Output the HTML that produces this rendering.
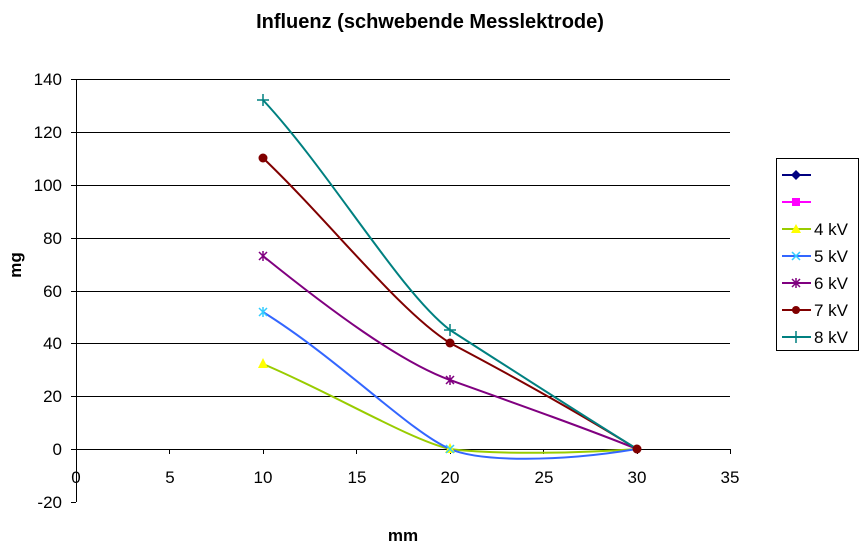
<!DOCTYPE html>
<html><head><meta charset="utf-8"><style>body{margin:0;background:#fff}svg{display:block;font-family:"Liberation Sans",Arial,sans-serif}</style></head><body>
<svg width="864" height="550" viewBox="0 0 864 550">
<rect width="864" height="550" fill="#fff"/>
<text x="430" y="28" font-size="20" font-weight="bold" text-anchor="middle">Influenz (schwebende Messlektrode)</text>
<g stroke="#000" stroke-width="1">
<line x1="76" y1="79.5" x2="730" y2="79.5"/><line x1="76" y1="132.5" x2="730" y2="132.5"/><line x1="76" y1="185.5" x2="730" y2="185.5"/><line x1="76" y1="238.5" x2="730" y2="238.5"/><line x1="76" y1="291.5" x2="730" y2="291.5"/><line x1="76" y1="343.5" x2="730" y2="343.5"/><line x1="76" y1="396.5" x2="730" y2="396.5"/><line x1="76" y1="449.5" x2="730" y2="449.5"/>
<line x1="76.5" y1="79" x2="76.5" y2="502"/>
<line x1="71" y1="79.5" x2="76" y2="79.5"/><line x1="71" y1="132.5" x2="76" y2="132.5"/><line x1="71" y1="185.5" x2="76" y2="185.5"/><line x1="71" y1="238.5" x2="76" y2="238.5"/><line x1="71" y1="291.5" x2="76" y2="291.5"/><line x1="71" y1="343.5" x2="76" y2="343.5"/><line x1="71" y1="396.5" x2="76" y2="396.5"/><line x1="71" y1="449.5" x2="76" y2="449.5"/><line x1="71" y1="502.5" x2="76" y2="502.5"/>
<line x1="169.5" y1="449" x2="169.5" y2="454"/><line x1="263.5" y1="449" x2="263.5" y2="454"/><line x1="356.5" y1="449" x2="356.5" y2="454"/><line x1="450.5" y1="449" x2="450.5" y2="454"/><line x1="543.5" y1="449" x2="543.5" y2="454"/><line x1="637.5" y1="449" x2="637.5" y2="454"/><line x1="730.5" y1="449" x2="730.5" y2="454"/>
</g>
<g font-size="17" text-anchor="end">
<text x="62" y="85">140</text><text x="62" y="138">120</text><text x="62" y="191">100</text><text x="62" y="244">80</text><text x="62" y="297">60</text><text x="62" y="349">40</text><text x="62" y="402">20</text><text x="62" y="455">0</text><text x="62" y="508">-20</text>
</g>
<g font-size="17" text-anchor="middle">
<text x="76" y="483">0</text><text x="170" y="483">5</text><text x="263" y="483">10</text><text x="357" y="483">15</text><text x="450" y="483">20</text><text x="544" y="483">25</text><text x="637" y="483">30</text><text x="730" y="483">35</text>
</g>
<text x="403" y="541" font-size="17" font-weight="bold" text-anchor="middle">mm</text>
<text transform="translate(21,265) rotate(-90)" font-size="17" font-weight="bold" text-anchor="middle">mg</text>
<g fill="none" stroke-width="2">
<path d="M263,364 C330,392 410,440 450,449 C500,455 580,453 637,449" stroke="#99cc00"/>
<path d="M263,312 C340,360 410,432 450,449 C480,462 560,462 637,449" stroke="#3366ff"/>
<path d="M263,256 C330,310 400,362 450,380 C520,405 590,430 637,449" stroke="#800080"/>
<path d="M263,158 C330,222 400,312 450,343 C520,380 590,420 637,449" stroke="#800000"/>
<path d="M263,100 C330,172 400,292 450,330 C520,375 590,420 637,449" stroke="#008080"/>
</g>
<polygon points="263,358 258,368 268,368" fill="#ffff00"/>
<polygon points="450,443 445,453 455,453" fill="#ffff00"/>
<g stroke="#33ccff" stroke-width="1.5"><path d="M259,308 L267,316 M259,316 L267,308 M263,307 V317"/><path d="M446,445 L454,453 M446,453 L454,445"/></g>
<g stroke="#800080" stroke-width="1.5"><path d="M259,252 L267,260 M259,260 L267,252 M263,251 V261"/><path d="M446,376 L454,384 M446,384 L454,376 M450,375 V385"/></g>
<circle cx="263" cy="158" r="4.5" fill="#800000"/><circle cx="450" cy="343" r="4.5" fill="#800000"/><circle cx="637" cy="449" r="4.5" fill="#800000"/>
<g stroke="#008080" stroke-width="1.5"><path d="M257,100 H269 M263,94 V106"/><path d="M444,330 H456 M450,324 V336"/></g>
<rect x="776.5" y="158.5" width="82" height="192" fill="#fff" stroke="#000"/>
<g stroke-width="2">
<line x1="782" y1="175" x2="811" y2="175" stroke="#000080"/><polygon points="796,170 801,175 796,180 791,175" fill="#000080"/>
<line x1="782" y1="202" x2="811" y2="202" stroke="#ff00ff"/><rect x="792" y="198" width="8" height="8" fill="#ff00ff"/>
<line x1="782" y1="229" x2="811" y2="229" stroke="#99cc00"/><polygon points="796,224 791,233 801,233" fill="#ffff00"/>
<line x1="782" y1="256" x2="811" y2="256" stroke="#3366ff"/><path d="M792,252 L800,260 M792,260 L800,252" stroke="#33ccff" stroke-width="1.5"/>
<line x1="782" y1="283" x2="811" y2="283" stroke="#800080"/><path d="M792,279 L800,287 M792,287 L800,279 M796,278 V288" stroke="#800080" stroke-width="1.5"/>
<line x1="782" y1="310" x2="811" y2="310" stroke="#800000"/><circle cx="796" cy="310" r="4" fill="#800000"/>
<line x1="782" y1="337" x2="811" y2="337" stroke="#008080"/><path d="M796,331 V343" stroke="#008080" stroke-width="1.5"/>
</g>
<g font-size="17"><text x="814" y="235">4 kV</text><text x="814" y="262">5 kV</text><text x="814" y="289">6 kV</text><text x="814" y="316">7 kV</text><text x="814" y="343">8 kV</text></g>
</svg>
</body></html>
